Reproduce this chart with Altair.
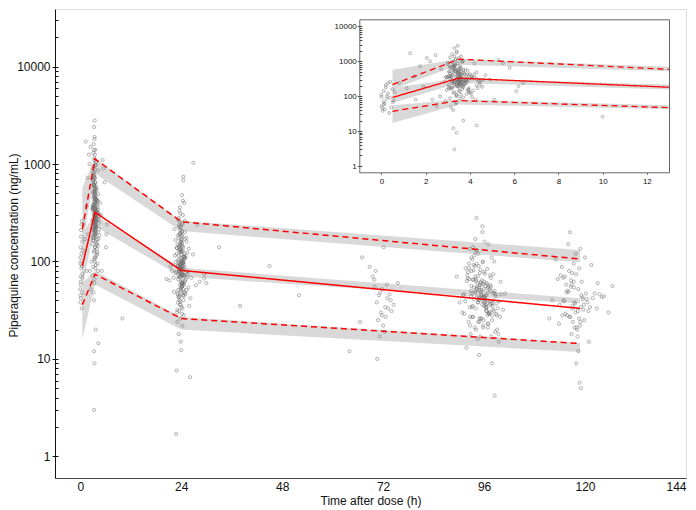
import altair as alt
import pandas as pd

# ---------------- observed percentile lines (main plot) ----------------
pct_time = [0.5, 3.5, 24, 118.8]
p05 = [36, 74, 26, 14.4]
p50 = [90, 320, 81, 33]
p95 = [215, 1130, 256, 106]
# simulated confidence bands
p05_lo = [16, 58, 20, 11.8]
p05_hi = [60, 80, 27, 14.6]
p50_lo = [55, 230, 70, 37]
p50_hi = [200, 300, 86, 42]
p95_lo = [150, 800, 205, 98]
p95_hi = [570, 1150, 262, 131]

# ---------------- inset (first 13 h) ----------------
inset_time = [0.5, 3.5, 13]
in_p05 = [37, 75, 47]
in_p50 = [92, 330, 181]
in_p95 = [215, 1150, 590]
in_p05_lo = [17, 58, 42]
in_p05_hi = [55, 80, 55]
in_p50_lo = [64, 240, 155]
in_p50_hi = [175, 320, 216]
in_p95_lo = [155, 800, 518]
in_p95_hi = [575, 1170, 700]

# ---------------- observations ----------------
early_t = [0.0, 0.05, 0.1, 0.0, 0.2, 0.15, 0.3, 0.05, 0.4, 0.25,
           0.5, 0.1, 0.35, 0.0, 0.45, 0.2, 0.55, 0.3, 0.1, 0.6,
           0.4, 0.15, 0.25, 0.5]
early_v = [52, 38, 140, 95, 210, 62, 120, 45, 260, 85,
           160, 70, 33, 110, 48, 180, 75, 240, 58, 130,
           90, 42, 100, 68]

sp1_t = [1.3, 1.15, 1.55, 2.05, 2.2, 1.75, 2.3, 2.65, 1.9, 2.5, 1.5, 0.8, 2.7, 2.45]
sp1_v = [1700, 170, 80, 1250, 1000, 720, 80, 100, 190, 52, 370, 240, 600, 1500]

peak_t = [3.4, 3.1, 3.7, 3.3, 3.9, 3.5, 3.2, 4.1, 3.6, 3.0,
          3.8, 3.35, 3.55, 2.9, 3.45, 4.3, 3.15, 3.65, 3.25, 4.6,
          3.5, 3.05, 3.75, 3.4, 3.3, 4.0, 3.6, 3.2, 4.4, 3.45,
          3.1, 3.85, 3.3, 3.55, 4.2, 3.4, 2.95, 3.7, 3.5, 3.25,
          4.5, 3.35, 3.6, 3.15, 3.45, 3.9, 3.05, 3.75, 3.3, 4.1,
          3.5, 3.2, 3.8, 3.4, 4.7, 3.6, 3.3, 3.95, 3.1, 3.55,
          3.25, 4.25, 3.5, 3.0, 3.65, 3.35, 4.05, 3.45, 2.85, 3.7,
          3.4, 3.9, 3.15, 3.6, 3.3, 4.35, 3.5, 3.2, 3.8, 3.05,
          3.55, 4.15, 3.25, 3.45, 3.7, 3.1, 3.4, 4.55, 3.6, 3.35,
          3.0, 3.5, 3.85, 3.3, 4.45, 3.45, 3.15, 3.65, 4.0, 3.4,
          3.75, 3.2, 3.55, 2.9, 3.95, 3.35, 3.6, 3.25, 4.3, 3.5,
          3.1, 3.65, 4.2, 3.4, 3.3, 3.8, 3.05, 3.55, 3.45, 3.7,
          4.3, 3.25, 3.4, 3.3]
peak_v = [310, 520, 180, 820, 260, 140, 410, 95, 640, 350,
          230, 1150, 280, 72, 460, 200, 370, 990, 125, 300,
          560, 165, 430, 240, 1400, 330, 110, 700, 270, 190,
          88, 390, 610, 220, 340, 1800, 150, 480, 255, 760,
          290, 60, 520, 175, 880, 320, 210, 440, 130, 360,
          1250, 245, 580, 100, 400, 285, 2400, 155, 680, 235,
          470, 80, 330, 900, 195, 365, 120, 540, 265, 1050,
          210, 420, 48, 305, 740, 170, 385, 1600, 228, 500,
          340, 145, 620, 275, 92, 450, 1900, 185, 360, 250,
          820, 300, 115, 510, 215, 2800, 380, 160, 430, 66,
          270, 950, 205, 355, 135, 600, 315, 40, 490, 230,
          1300, 260, 415, 105, 560, 295, 180, 720, 345, 20,
          14.5, 12, 9, 3]

peak2_t = [3.3, 3.6, 3.45, 3.2, 3.75, 3.5, 3.9, 3.35, 3.05, 3.65,
           4.2, 3.4, 3.55, 3.15, 3.8, 3.3, 3.6, 4.0, 3.5, 3.25,
           3.7, 3.45, 2.95, 3.6, 3.35, 4.3, 3.5, 3.2, 3.85, 3.4,
           3.55, 3.1, 3.7, 3.45, 4.1, 3.3, 3.65, 3.0, 3.5, 3.9,
           3.25, 3.6, 3.4, 4.45, 3.55, 3.15, 3.75, 3.35, 3.5, 3.95,
           3.45, 3.2, 3.6, 3.3, 4.05, 3.5, 3.7, 3.4, 3.1, 3.55]
peak2_v = [280, 450, 190, 620, 330, 240, 150, 520, 380, 210,
           860, 300, 410, 165, 270, 730, 350, 125, 495, 260,
           200, 590, 340, 235, 1100, 310, 430, 175, 285, 390,
           140, 670, 255, 470, 320, 215, 960, 360, 185, 540,
           295, 405, 110, 250, 650, 345, 225, 780, 305, 170,
           440, 265, 1400, 195, 375, 290, 560, 220, 325, 85]

post_t = [5.8, 6.2, 6.1, 5.1, 5.5, 4.9, 6.4, 5.3, 10.0]
post_v = [650, 190, 140, 80, 900, 300, 240, 1100, 26]

day1_t = [24.0, 23.5, 24.5, 23.8, 24.2, 23.2, 24.8, 23.9, 24.4, 23.6,
          24.1, 25.2, 23.4, 24.6, 22.8, 24.3, 23.7, 25.0, 24.0, 23.3,
          24.7, 23.9, 22.5, 24.2, 23.6, 25.5, 24.1, 23.1, 24.5, 23.8,
          23.5, 24.9, 24.0, 21.8, 23.7, 24.4, 25.8, 23.2, 24.3, 23.9,
          24.6, 23.4, 24.1, 26.2, 23.8, 22.2, 24.2, 24.8, 23.5, 24.0,
          23.1, 24.5, 23.7, 24.9, 21.2, 24.3, 23.6, 25.3, 24.0, 23.3,
          26.8, 23.9, 24.5, 24.2, 23.0, 22.9, 24.7, 23.5, 27.5, 24.1,
          24.4, 23.2, 25.6, 23.8, 24.0, 20.5, 23.6, 24.6, 23.4, 24.2,
          23.7, 28.4, 24.3, 23.9, 25.1, 24.0, 26.9, 23.3, 24.8, 22.7,
          24.0, 24.1, 23.5, 22.4, 24.6, 23.8, 22.9, 25.4, 24.2, 24.5,
          23.6, 24.9, 23.1, 24.3, 26.1, 23.9, 24.4, 25.9, 23.7, 21.5,
          24.2, 23.5, 22.8, 24.0, 27.8, 23.4, 24.7, 29.5, 23.9, 24.1]
day1_v = [85, 140, 52, 210, 95, 38, 120, 70, 300, 88,
          60, 175, 105, 28, 78, 250, 92, 46, 130, 66,
          400, 82, 115, 55, 190, 74, 34, 150, 98, 62,
          225, 48, 108, 80, 360, 58, 135, 90, 22, 165,
          72, 280, 100, 42, 125, 68, 480, 86, 145, 54,
          32, 112, 76, 200, 64, 96, 40, 160, 84, 270,
          118, 50, 740, 90, 30, 138, 71, 236, 57, 102,
          45, 185, 79, 26, 128, 66, 330, 94, 18, 155,
          87, 62, 240, 36, 110, 75, 1030, 51, 170, 99,
          12.3, 142, 69, 215, 44, 92, 7.6, 122, 59, 680,
          81, 260, 47, 104, 6.5, 158, 73, 35, 196, 89,
          56, 132, 1.7, 83, 240, 43, 113, 67, 15, 180]

day1b_t = [23.9, 24.3, 23.6, 24.1, 24.6, 23.4, 24.0, 24.8, 23.7, 24.2,
           23.3, 24.5, 23.8, 24.1, 25.1, 23.5, 24.4, 23.9, 22.9, 24.2,
           24.0, 23.6, 24.7, 23.2, 24.3, 23.8, 25.4, 24.1, 23.5, 24.6,
           23.9, 24.4, 22.6, 24.0, 23.7, 24.9, 23.4, 24.2, 23.8, 25.7,
           24.1, 23.6, 24.5, 23.0, 24.3, 23.9, 24.7, 23.3, 24.0, 22.3,
           24.4, 23.7, 24.2, 25.0, 23.5, 24.1, 23.8, 26.4, 24.0, 23.4,
           24.6, 23.9, 24.3, 23.1, 24.8, 23.6, 24.2, 25.3, 23.8, 24.0,
           23.5, 24.5, 22.7, 24.1, 23.9, 24.4, 23.2, 24.7, 23.7, 24.3]
day1b_v = [95, 62, 130, 78, 48, 175, 88, 110, 57, 205,
           72, 140, 39, 98, 66, 260, 84, 52, 120, 74,
           160, 44, 105, 91, 33, 190, 69, 125, 81, 58,
           235, 100, 76, 47, 148, 63, 115, 29, 86, 54,
           170, 93, 40, 137, 71, 220, 60, 102, 82, 49,
           128, 36, 185, 77, 96, 55, 310, 68, 117, 43,
           89, 150, 64, 24, 108, 79, 200, 51, 134, 73,
           31, 97, 166, 59, 85, 420, 46, 112, 70, 145]

mid_t = [29.5, 30.0, 33.0, 38.0, 45.0, 52.0]
mid_v = [75, 60, 140, 35, 90, 45]

day3_t = [70.5, 71.8, 72.6, 69.9, 73.2, 71.0, 72.0, 70.2, 73.8, 71.5,
          72.9, 70.8, 71.3, 74.5, 72.3, 69.5, 73.0, 71.7, 70.0, 72.5,
          67.0, 64.0, 75.5, 66.5, 71.2, 73.5, 68.8, 72.1, 70.6, 74.0]
day3_v = [38, 52, 27, 65, 33, 45, 22, 80, 40, 30,
          58, 25, 48, 36, 19, 70, 42, 28, 55, 34,
          110, 12, 60, 24, 17, 46, 88, 140, 10, 31]

day4_t = [95.0, 93.5, 96.8, 94.2, 97.5, 92.8, 95.9, 94.6, 98.3, 93.1,
          96.2, 94.9, 91.5, 97.0, 95.4, 93.8, 98.8, 96.5, 92.4, 95.2,
          94.0, 97.8, 93.3, 96.0, 99.5, 94.8, 92.0, 97.2, 95.6, 93.6,
          96.9, 91.0, 95.1, 98.0, 94.3, 99.8, 93.0, 96.3, 94.5, 97.6,
          92.6, 95.7, 98.5, 94.1, 96.6, 90.2, 93.9, 97.3, 95.3, 92.2,
          97.9, 94.4, 96.1, 93.2, 100.5, 95.5, 91.8, 98.1, 94.7, 96.4,
          93.4, 97.1, 95.8, 89.5, 94.9, 99.0, 96.7, 92.9, 98.6, 95.0,
          96.0, 93.7, 101.0, 95.4, 92.5, 97.4, 94.2, 96.8, 90.8, 98.2,
          94.6, 97.7, 93.5, 99.2, 95.9, 92.3, 96.5, 94.0, 98.9, 98.5,
          95.2, 91.3, 97.5, 94.8, 93.0, 96.2, 100.0, 95.6, 92.7, 97.0,
          94.3, 98.4, 96.6, 91.9, 95.8, 93.9, 97.9, 94.5, 99.6, 96.1]
day4_v = [42, 65, 28, 95, 36, 18, 52, 120, 31, 47,
          75, 24, 39, 150, 58, 21, 44, 33, 86, 26,
          49, 110, 35, 62, 15, 40, 72, 29, 200, 54,
          23, 45, 82, 37, 130, 27, 56, 41, 16, 68,
          34, 98, 50, 20, 60, 38, 170, 30, 46, 78,
          25, 55, 43, 105, 32, 64, 13, 48, 90, 36,
          140, 40, 22, 70, 51, 28, 84, 44, 19, 57,
          35, 115, 47, 26, 66, 39, 280, 53, 30, 74,
          41, 17, 92, 33, 59, 24, 45, 125, 37, 4.2,
          61, 29, 50, 11, 80, 38, 46, 230, 27, 55,
          43, 100, 34, 63, 21, 48, 9, 71, 39, 160]

day4b_t = [94.5, 96.3, 93.2, 95.7, 97.4, 94.0, 96.9, 92.7, 95.1, 98.0,
           93.8, 95.5, 97.1, 94.3, 96.0, 92.1, 95.9, 98.7, 93.5, 96.6,
           94.8, 97.7, 93.0, 95.3, 99.1, 94.1, 96.4, 92.9, 97.9, 95.0,
           93.6, 96.8, 94.6, 98.4, 95.6, 92.4, 97.2, 94.2, 96.1, 99.4,
           93.3, 95.8, 97.5, 94.9, 91.6, 96.2, 98.1, 93.9, 95.2, 97.0,
           94.4, 96.7, 92.6, 95.4, 98.9, 94.7, 96.0, 93.1, 97.6, 95.1,
           91.2, 96.5, 94.0, 98.2, 95.7, 93.4, 97.3, 94.6, 96.9, 99.9]
day4b_v = [38, 56, 27, 44, 72, 33, 48, 22, 61, 35,
           90, 42, 29, 52, 39, 67, 25, 46, 81, 31,
           54, 37, 110, 45, 20, 63, 34, 50, 28, 76,
           41, 58, 24, 47, 36, 95, 30, 53, 43, 18,
           65, 39, 57, 26, 85, 44, 32, 70, 49, 23,
           60, 37, 135, 51, 29, 42, 78, 34, 55, 17,
           46, 31, 66, 40, 100, 27, 52, 38, 21, 62]

day5_t = [117.0, 115.5, 118.8, 116.2, 119.5, 114.6, 117.8, 120.2, 116.8, 113.5,
          118.3, 121.5, 115.0, 119.8, 117.4, 116.0, 122.8, 114.2, 118.1, 124.5,
          119.2, 116.5, 113.0, 117.6, 120.9, 115.8, 125.6, 118.6, 112.2, 117.1,
          116.4, 123.4, 119.0, 114.8, 118.4, 126.5, 115.3, 117.3, 120.6, 118.7,
          119.0, 121.8, 116.9, 111.5, 118.9, 114.0, 123.0, 117.5, 115.6, 119.6,
          120.0, 124.0, 117.9, 116.7, 113.8]
day5_v = [35, 58, 22, 80, 41, 28, 120, 47, 18, 66,
          31, 92, 39, 25, 54, 150, 33, 72, 20, 44,
          62, 27, 105, 37, 15, 50, 30, 85, 40, 24,
          200, 46, 34, 68, 12, 56, 29, 95, 38, 5.7,
          5.0, 42, 76, 26, 135, 36, 60, 21, 48, 32,
          110, 43, 9, 64, 23]

day5b_t = [117.5, 118.4, 116.3, 119.1, 117.0, 115.2, 118.9, 120.4, 116.8, 117.7,
           119.7, 114.5, 118.0, 116.1, 121.2, 117.3, 115.7, 119.4, 118.2, 116.6,
           120.8, 117.9, 114.9, 118.6, 122.3]
day5b_v = [38, 52, 27, 45, 33, 70, 24, 41, 58, 30,
           36, 88, 21, 49, 34, 62, 28, 43, 17, 55,
           31, 74, 40, 26, 47]

x_ticks = [0, 24, 48, 72, 96, 120, 144]
inset_x_ticks = [0, 2, 4, 6, 8, 10, 12]
y_major = [1, 10, 100, 1000, 10000]
y_minor = [m * d for d in [1, 10, 100, 1000, 10000] for m in range(1, 10) if m * d <= 30000]

# ---------------- tables ----------------
obs_t, obs_v = [], []
for tt, vv in [(early_t, early_v), (sp1_t, sp1_v), (peak_t, peak_v), (peak2_t, peak2_v),
               (post_t, post_v), (day1_t, day1_v), (day1b_t, day1b_v), (mid_t, mid_v),
               (day3_t, day3_v), (day4_t, day4_v), (day4b_t, day4b_v),
               (day5_t, day5_v), (day5b_t, day5b_v)]:
    assert len(tt) == len(vv)
    obs_t += tt
    obs_v += vv
obs = pd.DataFrame({"t": obs_t, "v": obs_v})
obs_in = obs[obs["t"] <= 13].reset_index(drop=True)


def pct_table(times, rows):
    recs = []
    for name, val, lo, hi in rows:
        for t, a, b, c in zip(times, val, lo, hi):
            recs.append({"t": t, "pct": name, "val": a, "lo": b, "hi": c})
    return pd.DataFrame(recs)


main_pct = pct_table(pct_time, [("p05", p05, p05_lo, p05_hi),
                                ("p50", p50, p50_lo, p50_hi),
                                ("p95", p95, p95_lo, p95_hi)])
inset_pct = pct_table(inset_time, [("p05", in_p05, in_p05_lo, in_p05_hi),
                                   ("p50", in_p50, in_p50_lo, in_p50_hi),
                                   ("p95", in_p95, in_p95_lo, in_p95_hi)])

# ---------------- geometry ----------------
W, H = 631, 469
FONT = "Liberation Sans"
IN_LEFT, IN_RIGHT = 304.3, 614.0
IN_TOP, IN_BOTTOM = 10.3, 163.3

x_main = alt.Scale(domain=[-6, 144], nice=False, zero=False)
y_main = alt.Scale(type="log", domain=[0.6, 39000], nice=False)
x_in = alt.Scale(domain=[-1, 13], range=[IN_LEFT, IN_RIGHT], nice=False, zero=False)
y_in = alt.Scale(type="log", domain=[0.66, 16000], range=[IN_BOTTOM, IN_TOP], nice=False)

dash_scale = alt.Scale(domain=["p05", "p50", "p95"], range=[[6, 4], [1, 0], [6, 4]])


def panel(pct_df, obs_df, xs, ys, xaxis, yaxis, lw, psize):
    base = alt.Chart(pct_df)
    band = base.mark_area(color="#d9d9d9", opacity=1).encode(
        x=alt.X("t:Q", scale=xs, axis=xaxis),
        y=alt.Y("lo:Q", scale=ys, axis=yaxis),
        y2="hi:Q",
        detail="pct:N",
    )
    pts = alt.Chart(obs_df).mark_point(
        shape="circle", filled=False, size=psize, color="#6e6e6e",
        strokeWidth=0.7, opacity=0.75
    ).encode(x=alt.X("t:Q", scale=xs), y=alt.Y("v:Q", scale=ys))
    lines = base.mark_line(color="#ff0000", strokeWidth=lw).encode(
        x=alt.X("t:Q", scale=xs),
        y=alt.Y("val:Q", scale=ys),
        strokeDash=alt.StrokeDash("pct:N", scale=dash_scale, legend=None),
        detail="pct:N",
    )
    return alt.layer(band, pts, lines)


main = panel(
    main_pct, obs, x_main, y_main,
    alt.Axis(values=x_ticks, title="Time after dose (h)", orient="bottom",
             labelFontSize=12, titleFontSize=12, ticks=False, labelPadding=3,
             titlePadding=3, grid=False, domainColor="#444",
             labelColor="#111", titleColor="#111", titleFontWeight="normal",
             labelFont=FONT, titleFont=FONT),
    alt.Axis(values=y_major, format="d", title="Piperaquine concentration (ng/mL)",
             orient="left", labelFontSize=12, titleFontSize=12, tickSize=3,
             labelPadding=2, grid=False, domainColor="#111", tickColor="#111",
             labelColor="#111", titleColor="#111", titleFontWeight="normal",
             titleX=-35, titleY=236, labelFont=FONT, titleFont=FONT),
    1.5, 10,
)

# inward ticks for main y axis
main_ticks = alt.Chart(main_pct).mark_point(opacity=0).encode(
    x=alt.X("t:Q", scale=x_main, axis=None),
    y=alt.Y("val:Q", scale=y_main,
            axis=alt.Axis(orient="right", offset=-W, values=y_minor, labels=False,
                          domain=False, tickSize=3, tickColor="#111", grid=False,
                          title=None)),
)

inset = panel(
    inset_pct, obs_in, x_in, y_in,
    alt.Axis(values=inset_x_ticks, title=None, orient="bottom", offset=IN_BOTTOM - H,
             labelFontSize=8, tickSize=2, labelPadding=3, grid=False,
             domainColor="#666", tickColor="#666", labelColor="#111",
             labelFont=FONT),
    alt.Axis(values=y_major, format="d", title=None, orient="left", offset=-IN_LEFT,
             labelFontSize=8, tickSize=2, labelPadding=1, grid=False,
             domainColor="#666", tickColor="#444", labelColor="#111",
             labelFont=FONT),
    1.3, 8,
)

inset_ticks = alt.Chart(inset_pct).mark_point(opacity=0).encode(
    x=alt.X("t:Q", scale=x_in,
            axis=alt.Axis(orient="top", offset=-IN_TOP, labels=False, ticks=False,
                          domainColor="#666", grid=False, title=None)),
    y=alt.Y("val:Q", scale=y_in,
            axis=alt.Axis(orient="right", offset=IN_LEFT - W, values=y_minor,
                          labels=False, domain=False, tickSize=2.5,
                          tickColor="#444", grid=False, title=None)),
)

inset_right = alt.Chart(inset_pct).mark_point(opacity=0).encode(
    x=alt.X("t:Q", scale=x_in, axis=None),
    y=alt.Y("val:Q", scale=y_in,
            axis=alt.Axis(orient="right", offset=IN_RIGHT - W, labels=False,
                          ticks=False, domainColor="#666", grid=False, title=None)),
)

chart = alt.layer(main, main_ticks, inset, inset_ticks, inset_right).resolve_scale(
    x="independent", y="independent", strokeDash="independent"
).resolve_axis(x="independent", y="independent").properties(
    width=W, height=H,
    padding={"left": 47, "top": 1, "right": 2, "bottom": 31},
    autosize=alt.AutoSizeParams(type="none"),
).configure_view(stroke="#444", strokeWidth=1.2).configure(background="white")

chart.save("out.html", embed_options={"renderer": "svg", "actions": False})
